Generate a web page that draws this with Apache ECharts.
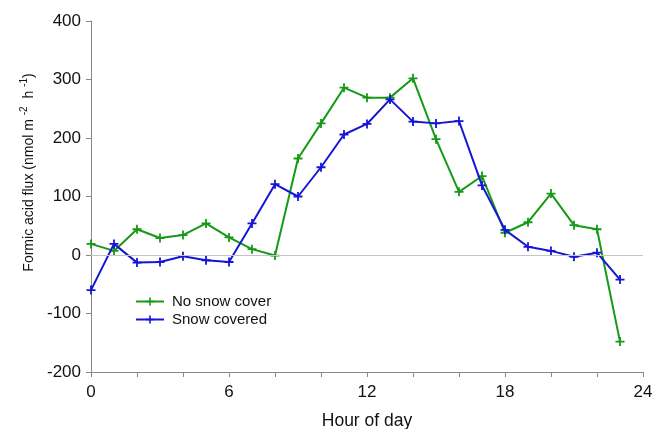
<!DOCTYPE html>
<html>
<head>
<meta charset="utf-8">
<script src="https://cdn.jsdelivr.net/npm/echarts@6/dist/echarts.min.js"></script>
<style>
html,body{margin:0;padding:0;background:#fff;}
#chart{width:655px;height:429px;}
</style>
</head>
<body>
<div id="chart"></div>
<script>
var hours = [0,1,2,3,4,5,6,7,8,9,10,11,12,13,14,15,16,17,18,19,20,21,22,23];
var noSnowCover = [19,7,44,29,34,54,30,10,-1,165,225,286,269,269,302,198,108,135,38,56,105,51,44,-148];
var snowCovered = [-60,19,-13,-12,-2,-9,-12,54,121,100,150,206,224,266,228,225,229,119,43,14,7,-3,4,-42];
var xTicks = [0,6,12,18,24];
var yTicks = [-200,-100,0,100,200,300,400];
var seriesNames = ['No snow cover','Snow covered'];
var seriesColors = ['#169a16','#1515d6'];

var plus = 'path://M0,3.2H8V4.8H0Z M3.2,0H4.8V8H3.2Z';
function pairs(vals){ return hours.map(function(h,i){ return [h, vals[i]]; }); }
var FF = 'Liberation Sans, Arial, sans-serif';

var chart = echarts.init(document.getElementById('chart'));
chart.setOption({
  animation:false,
  textStyle:{fontFamily:FF},
  grid:{left:91,right:12,top:21,bottom:57,containLabel:false,outerBoundsMode:'none'},
  legend:{
    orient:'vertical', left:130, top:289, itemWidth:28, itemHeight:10, itemGap:3,
    textStyle:{fontSize:15,color:'#111',padding:[0,0,0,3]},
    data:seriesNames
  },
  xAxis:{
    type:'value', min:0, max:24, interval:2,
    axisLine:{onZero:false,lineStyle:{color:'#888',width:1}},
    axisTick:{length:5,lineStyle:{color:'#888'}},
    splitLine:{show:false},
    axisLabel:{fontSize:17,color:'#111',margin:12,
      formatter:function(v){ return xTicks.indexOf(v)>=0 ? String(v) : ''; }},
    name:'Hour of day', nameLocation:'middle', nameGap:42,
    nameTextStyle:{fontSize:17.5,color:'#111',lineHeight:14}
  },
  yAxis:{
    type:'value', min:yTicks[0], max:yTicks[yTicks.length-1], interval:100,
    axisLine:{show:true,onZero:false,lineStyle:{color:'#888',width:1}},
    axisTick:{show:true,length:5,lineStyle:{color:'#888'}},
    splitLine:{show:false},
    axisLabel:{fontSize:17,color:'#111',margin:10},
    name:'{n|Formic acid flux (nmol m }{s|-2}{n|  h }{s|-1}{n|)}',
    nameLocation:'middle', nameGap:52,
    nameTextStyle:{
      padding:[0,0,0,48],
      rich:{
        n:{fontSize:14,color:'#111',lineHeight:19,fontFamily:FF},
        s:{fontSize:10,color:'#111',lineHeight:19,verticalAlign:'top',fontFamily:FF}
      }
    }
  },
  series:[
    {
      name:seriesNames[0], type:'line', data:pairs(noSnowCover),
      symbol:plus, symbolSize:9, showAllSymbol:true,
      lineStyle:{color:seriesColors[0],width:2},
      itemStyle:{color:seriesColors[0]},
      markLine:{silent:true,symbol:'none',label:{show:false},
        lineStyle:{color:'#c4c4c4',width:1,type:'solid'},data:[{yAxis:0}]},
      z:3
    },
    {
      name:seriesNames[1], type:'line', data:pairs(snowCovered),
      symbol:plus, symbolSize:9, showAllSymbol:true,
      lineStyle:{color:seriesColors[1],width:2},
      itemStyle:{color:seriesColors[1]},
      z:4
    }
  ]
});
</script>
</body>
</html>
